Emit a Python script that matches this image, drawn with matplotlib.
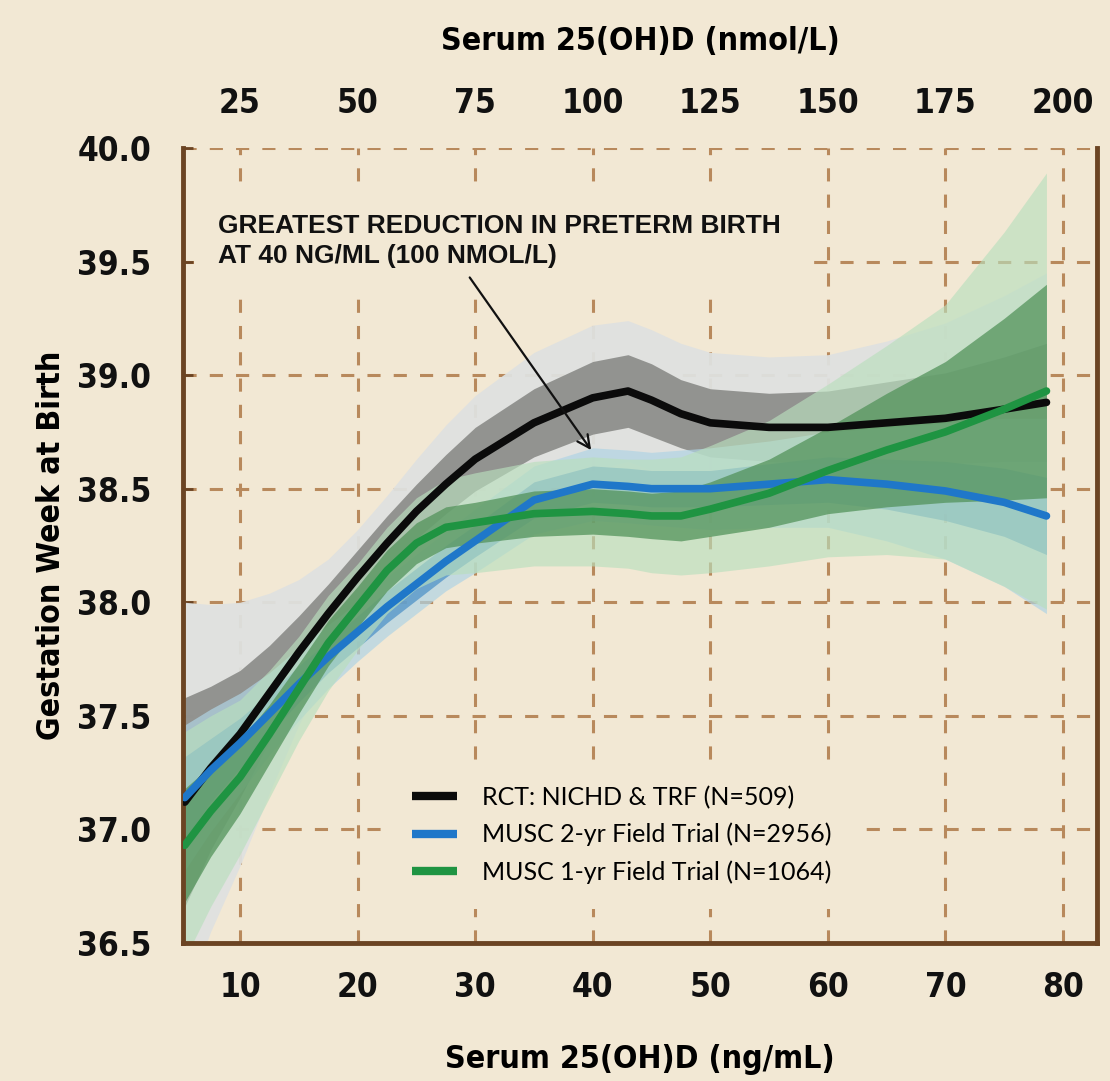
import matplotlib.pyplot as plt
import numpy as np

# serum 25(OH)D in ng/mL
x = [5.3, 7.5, 10, 12.5, 15, 17.5, 20, 22.5, 25, 27.5, 30, 35, 40, 43, 45, 47.5, 50, 55, 60, 65, 70, 75, 78.6]

# RCT: NICHD & TRF - fitted gestation week, inner and outer band half widths
rct_mean = [37.12, 37.27, 37.42, 37.60, 37.78, 37.95, 38.11, 38.26, 38.40, 38.52, 38.63, 38.79,
            38.90, 38.93, 38.89, 38.83, 38.79, 38.77, 38.77, 38.79, 38.81, 38.85, 38.88]
rct_inner = [0.46, 0.36, 0.28, 0.21, 0.16, 0.13, 0.12, 0.12, 0.12, 0.13, 0.14, 0.15,
             0.16, 0.16, 0.16, 0.15, 0.15, 0.15, 0.16, 0.18, 0.20, 0.23, 0.26]
rct_outer = [0.88, 0.72, 0.58, 0.44, 0.32, 0.24, 0.21, 0.21, 0.23, 0.26, 0.28, 0.31,
             0.32, 0.31, 0.31, 0.31, 0.31, 0.31, 0.32, 0.36, 0.42, 0.50, 0.57]

# MUSC 2-yr field trial
musc2_mean = [37.14, 37.26, 37.38, 37.51, 37.64, 37.76, 37.87, 37.98, 38.08, 38.18, 38.27, 38.45,
              38.52, 38.51, 38.50, 38.50, 38.50, 38.52, 38.54, 38.52, 38.49, 38.44, 38.38]
musc2_inner = [0.18, 0.14, 0.11, 0.09, 0.08, 0.07, 0.07, 0.07, 0.07, 0.07, 0.07, 0.08,
               0.08, 0.08, 0.08, 0.08, 0.08, 0.09, 0.10, 0.11, 0.13, 0.15, 0.17]
musc2_outer = [0.32, 0.27, 0.22, 0.18, 0.16, 0.14, 0.13, 0.13, 0.13, 0.13, 0.14, 0.15,
               0.16, 0.16, 0.16, 0.17, 0.18, 0.19, 0.21, 0.25, 0.30, 0.37, 0.43]

# MUSC 1-yr field trial
musc1_mean = [36.93, 37.08, 37.23, 37.42, 37.62, 37.82, 37.98, 38.14, 38.26, 38.33, 38.35, 38.39,
              38.40, 38.39, 38.38, 38.38, 38.41, 38.48, 38.58, 38.67, 38.75, 38.85, 38.93]
musc1_inner = [0.25, 0.20, 0.16, 0.13, 0.11, 0.10, 0.09, 0.09, 0.09, 0.09, 0.09, 0.10,
               0.10, 0.10, 0.10, 0.11, 0.12, 0.15, 0.19, 0.25, 0.31, 0.40, 0.47]
musc1_outer = [0.50, 0.42, 0.34, 0.28, 0.23, 0.21, 0.19, 0.19, 0.20, 0.21, 0.22, 0.23,
               0.24, 0.24, 0.25, 0.26, 0.28, 0.32, 0.38, 0.46, 0.56, 0.78, 0.96]

labels = ['RCT: NICHD & TRF (N=509)', 'MUSC 2-yr Field Trial (N=2956)', 'MUSC 1-yr Field Trial (N=1064)']

xticks = [10, 20, 30, 40, 50, 60, 70, 80]
nmol_ticks = [25, 50, 75, 100, 125, 150, 175, 200]
yticks = [36.5, 37.0, 37.5, 38.0, 38.5, 39.0, 39.5, 40.0]

bg = '#f2e8d4'
brown = '#6b4423'
grid_col = '#b8895c'
cond = dict(family='DejaVu Sans', fontstretch='condensed', fontweight='bold')

fig = plt.figure(figsize=(11.1, 10.81), dpi=100, facecolor=bg)
ax = fig.add_axes([0.1649, 0.1277, 0.8234, 0.7354])
ax.set_facecolor(bg)

xa = np.array(x)

def bands(mean, inner, outer, light, dark, a_out, a_in):
    m = np.array(mean)
    ax.fill_between(xa, m - np.array(outer), m + np.array(outer), color=light, alpha=a_out, lw=0, zorder=2)
    ax.fill_between(xa, m - np.array(inner), m + np.array(inner), color=dark, alpha=a_in, lw=0, zorder=2)

# gray band first, the trial bands are laid over it
bands(rct_mean, rct_inner, rct_outer, '#dfe1e0', '#8a8b88', 0.95, 0.9)
bands(musc2_mean, musc2_inner, musc2_outer, '#b0d4e4', '#4f93c8', 0.7, 0.75)
bands(musc1_mean, musc1_inner, musc1_outer, '#b9dfbd', '#53935b', 0.65, 0.75)
l1, = ax.plot(x, rct_mean, color='#0b0b0b', lw=5.5, zorder=3, solid_capstyle='round')
l2, = ax.plot(x, musc2_mean, color='#1f77c9', lw=5.5, zorder=3, solid_capstyle='round')
l3, = ax.plot(x, musc1_mean, color='#1f9442', lw=5.5, zorder=3, solid_capstyle='round')

ax.set_xlim(5.15, 82.9)
ax.set_ylim(36.5, 40.0)
ax.set_xticks(xticks)
ax.set_yticks(yticks)
ax.set_yticklabels(['%.1f' % v for v in yticks])

ax.grid(True, color=grid_col, linestyle=(0, (4.3, 4.3)), linewidth=2.2)
ax.set_axisbelow(True)

for s in ['left', 'bottom', 'right']:
    ax.spines[s].set_color(brown)
    ax.spines[s].set_linewidth(3.5)
ax.spines['top'].set_visible(False)

ax.tick_params(axis='y', direction='in', length=7, width=2, color=brown, pad=23)
ax.tick_params(axis='x', direction='in', length=0, pad=20)
for lab in ax.get_xticklabels() + ax.get_yticklabels():
    lab.set(**cond)
    lab.set_fontsize(24)
    lab.set_color('#111111')

top = ax.secondary_xaxis('top', functions=(lambda v: v * 2.5, lambda v: v / 2.5))
top.set_xticks(nmol_ticks)
top.tick_params(length=0, pad=20)
top.spines['top'].set_visible(False)
for lab in top.get_xticklabels():
    lab.set(**cond)
    lab.set_fontsize(24)
    lab.set_color('#111111')
top.set_xlabel('Serum 25(OH)D (nmol/L)', fontsize=23, labelpad=27, **cond)

ax.set_xlabel('Serum 25(OH)D (ng/mL)', fontsize=23, labelpad=29, **cond)
ax.set_ylabel('Gestation Week at Birth', fontsize=23, labelpad=7, **cond)

ax.text(8.13, 39.59, 'GREATEST REDUCTION IN PRETERM BIRTH\nAT 40 NG/ML (100 NMOL/L)',
        family=['Liberation Sans', 'DejaVu Sans'], fontweight='bold', fontsize=19, color='#111111',
        va='center', ha='left', linespacing=1.35, zorder=5,
        bbox=dict(boxstyle='square,pad=0.9', facecolor=bg, edgecolor='none'))
ax.annotate('', xy=(40.0, 38.66), xytext=(29.4, 39.44),
            arrowprops=dict(arrowstyle='->,head_length=0.9,head_width=0.45', color='#111111', lw=1.6),
            zorder=6)

leg = ax.legend([l1, l2, l3], labels, loc='upper left', bbox_to_anchor=(0.21, 0.245),
                frameon=True, facecolor=bg, edgecolor='none', framealpha=1,
                prop={'family': ['Lato', 'DejaVu Sans'], 'size': 18},
                handlelength=1.8, handletextpad=1.0, labelspacing=0.55, borderpad=1.0)
for h in leg.get_lines():
    h.set_linewidth(6)
    h.set_solid_capstyle('butt')
leg.set_zorder(5)

fig.savefig('out.png', dpi=100, facecolor=bg)
